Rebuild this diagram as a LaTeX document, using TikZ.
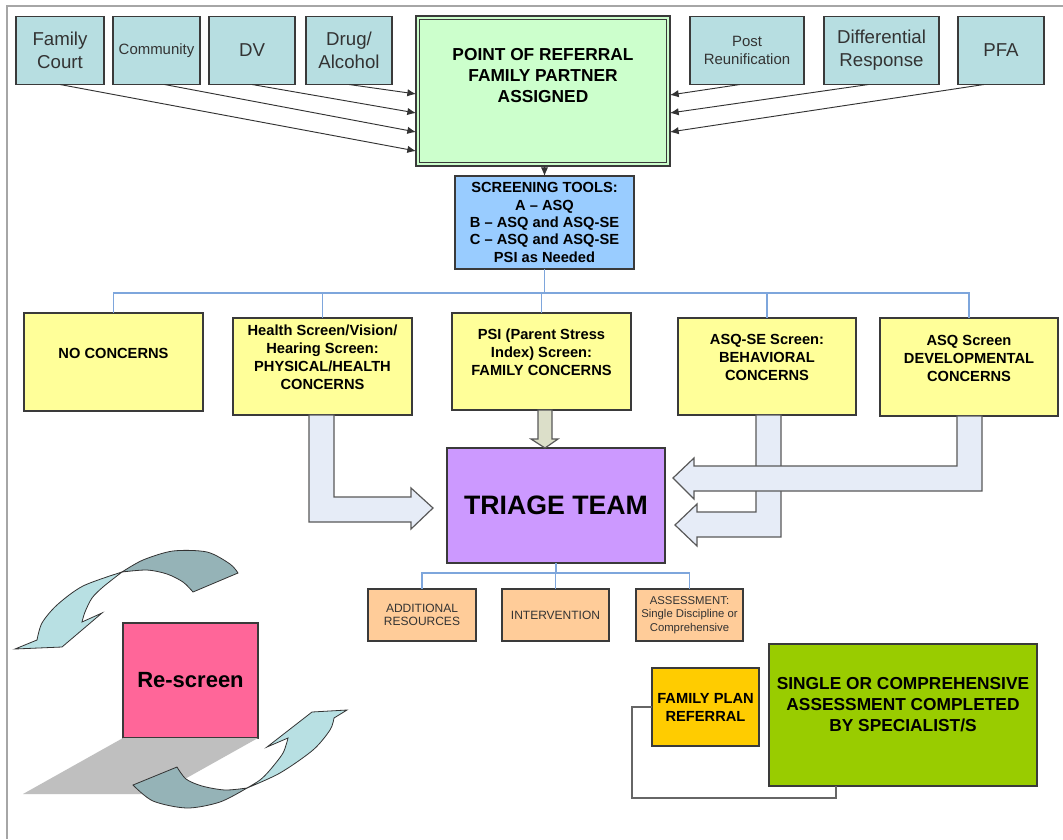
\documentclass[tikz,border=0pt]{standalone}
\usepackage{fontspec}
\setmainfont{Liberation Sans}
\usetikzlibrary{arrows.meta,calc}

\definecolor{srcfill}{HTML}{B7DEE1}
\definecolor{reffill}{HTML}{CCFFCC}
\definecolor{scrfill}{HTML}{99CCFF}
\definecolor{yelfill}{HTML}{FFFF99}
\definecolor{trifill}{HTML}{CC99FF}
\definecolor{orafill}{HTML}{FFCC99}
\definecolor{pinkfill}{HTML}{FF6699}
\definecolor{planfill}{HTML}{FFCC00}
\definecolor{specfill}{HTML}{99CC00}
\definecolor{bigarrow}{HTML}{E6ECF7}
\definecolor{psiarrow}{HTML}{DCDFC9}
\definecolor{orgblue}{HTML}{7EA6DC}
\definecolor{edge}{HTML}{3A3A3A}
\definecolor{swirldark}{HTML}{95B3B7}
\definecolor{swirllight}{HTML}{B8E0E3}

\tikzset{
  boxsize/.style 2 args={minimum width=#1*0.75pt, minimum height=#2*0.75pt},
  box/.style={draw=edge, line width=0.9pt, inner sep=1pt, outer sep=0pt, align=center},
  srcbox/.style={box, fill=srcfill, text=black!80, font=\fontsize{14}{17}\selectfont},
  srcsmall/.style={srcbox, font=\fontsize{11.2}{14}\selectfont},
  ybox/.style={box, fill=yelfill, font=\bfseries\fontsize{11}{13.5}\selectfont},
  obox/.style={box, fill=orafill, text=black!80, font=\fontsize{9}{9.8}\selectfont},
  feed/.style={draw=black!80, line width=0.7pt, -{Latex[length=6.5pt,width=5.5pt]}},
  orgline/.style={draw=orgblue, line width=1.1pt},
  blockarrow/.style={draw=black!65, line width=0.9pt, fill=bigarrow},
  swirl/.style={draw=black!80, line width=0.6pt},
}

\begin{document}
\begin{tikzpicture}[x=0.75pt, y=-0.75pt]
  \useasboundingbox (0,0) rectangle (1063,839);
  \fill[white] (0,0) rectangle (1063,839);
  \draw[black!35, line width=1.5pt] (7,839) -- (7,6) -- (1063,6);

  \node[srcbox, boxsize={88}{68}] (fc) at (60,50.5) {Family\\Court};
  \node[srcsmall, boxsize={87}{68}] (com) at (156.5,50.5) {Community};
  \node[srcbox, boxsize={86}{68}] (dv) at (252,50.5) {DV};
  \node[srcbox, boxsize={86}{68}] (drug) at (349,50.5) {Drug/\\Alcohol};
  \node[box, fill=reffill, boxsize={254}{150}, font=\bfseries\fontsize{13}{15.75}\selectfont] (ref) at (543,91) {POINT OF REFERRAL\\FAMILY PARTNER\\ASSIGNED\\[8pt]~};
  \draw[edge, line width=0.6pt] ([shift={(3.5,3.5)}]ref.north west) rectangle ([shift={(-3.5,-3.5)}]ref.south east);
  \node[srcsmall, boxsize={114}{68}] (post) at (747,50.5) {Post\\Reunification};
  \node[srcbox, boxsize={115}{68}] (diff) at (881.5,50.5) {Differential\\Response};
  \node[srcbox, boxsize={86}{68}] (pfa) at (1001,50.5) {PFA};

  \draw[feed] (fc.south) -- ($(ref.west)+(0,60)$);
  \draw[feed] ($(com.south)+(8,0)$) -- ($(ref.west)+(0,41)$);
  \draw[feed] (dv.south) -- ($(ref.west)+(0,22)$);
  \draw[feed] (drug.south) -- ($(ref.west)+(0,3)$);
  \draw[feed] ($(post.south)+(-7,0)$) -- ($(ref.east)+(0,4)$);
  \draw[feed] ($(diff.south)+(-13,0)$) -- ($(ref.east)+(0,22)$);
  \draw[feed] ($(pfa.south)+(-17,0)$) -- ($(ref.east)+(0,41)$);

  \node[box, fill=scrfill, boxsize={179}{93}, font=\bfseries\fontsize{11}{13}\selectfont] (scr) at (544.5,222.5) {SCREENING TOOLS:\\A – ASQ\\B – ASQ and ASQ-SE\\C – ASQ and ASQ-SE\\PSI as Needed};
  \draw[feed] (ref.south -| scr.north) -- (scr.north);

  \node[ybox, boxsize={179}{98}] (nc) at (113.5,362) {NO CONCERNS\\~};
  \node[ybox, boxsize={179}{97}] (hs) at (322.5,366.5) {Health Screen/Vision/\\Hearing Screen:\\PHYSICAL/HEALTH\\CONCERNS\\~};
  \node[ybox, boxsize={179}{97}] (psi) at (541.5,361.5) {PSI (Parent Stress\\Index) Screen:\\FAMILY CONCERNS\\~};
  \node[ybox, boxsize={178}{97}] (asqse) at (767,366.5) {ASQ-SE Screen:\\BEHAVIORAL\\CONCERNS\\~};
  \node[ybox, boxsize={178}{98}] (asq) at (969,367) {ASQ Screen\\DEVELOPMENTAL\\CONCERNS\\~};

  \coordinate (bus) at (544.5,293);
  \draw[orgline] (scr.south) -- (bus);
  \foreach \n in {nc,hs,psi,asqse,asq}
    \draw[orgline] (bus) -| (\n.north);

  \node[box, fill=trifill, boxsize={218}{115}, font=\bfseries\fontsize{20}{24}\selectfont] (tri) at (556,505.5) {TRIAGE TEAM};

  \filldraw[blockarrow] (309,415) -- (334,415) -- (334,497) -- (411,497) -- (411,488) -- (433,508) -- (411,529) -- (411,522) -- (309,522) -- cycle;
  \filldraw[blockarrow, fill=psiarrow] (538,410) -- (552,410) -- (552,439) -- (558,439) -- (545,448) -- (531,439) -- (538,439) -- cycle;
  \filldraw[blockarrow] (756,415) -- (781,415) -- (781,537) -- (697,537) -- (697,546) -- (675,525) -- (697,504) -- (697,512) -- (756,512) -- cycle;
  \filldraw[blockarrow] (957,416) -- (982,416) -- (982,491) -- (694,491) -- (694,499) -- (673,478) -- (694,458) -- (694,466) -- (957,466) -- cycle;

  \node[obox, boxsize={108}{52}] (add) at (422,615) {ADDITIONAL\\RESOURCES};
  \node[obox, boxsize={107}{52}] (int) at (555.5,615) {INTERVENTION};
  \node[obox, boxsize={107}{52}, font=\fontsize{8.5}{10}\selectfont] (asm) at (689.5,615) {ASSESSMENT:\\Single Discipline or\\Comprehensive};

  \coordinate (tbus) at (556,573);
  \draw[orgline] (tri.south) -- (tbus);
  \foreach \n in {add,int,asm}
    \draw[orgline] (tbus) -| (\n.north);

  \node[box, fill=pinkfill, boxsize={135}{115}, font=\bfseries\fontsize{16.5}{20}\selectfont] (rs) at (190.5,680.5) {Re-screen};
  \fill[black!25] (rs.south west) -- (rs.south east) -- ++(-100,56) -- ++(-135,0) -- cycle;

  \filldraw[swirl, fill=swirldark] plot[smooth] coordinates {(122,572) (143,560) (173,551) (207,552) (230,564) (238,573)} -- plot[smooth] coordinates {(193,592) (183,582) (167,574) (147,570) (122,572)} -- cycle;
  \filldraw[swirl, fill=swirllight] plot[smooth] coordinates {(122,572) (83,586) (57,605) (42,623) (37,640)} -- (15,649) -- (62,647) -- (102,613) -- plot[smooth] coordinates {(82,622) (85,612) (92,598) (103,587) (122,572)} -- cycle;
  \filldraw[swirl, fill=swirldark] plot[smooth] coordinates {(247,788) (220,802) (187,808) (153,801) (133,785)} -- plot[smooth] coordinates {(177,767) (186,779) (202,786) (225,790) (247,788)} -- cycle;
  \filldraw[swirl, fill=swirllight] plot[smooth] coordinates {(247,788) (280,773) (313,750) (330,730) (334,718)} -- (347,710) -- (312,712) -- (267,747) -- plot[smooth] coordinates {(288,738) (283,753) (270,770) (260,780) (247,788)} -- cycle;

  \node[box, fill=planfill, boxsize={107}{78}, font=\bfseries\fontsize{11}{13.5}\selectfont] (fpr) at (705.5,707) {FAMILY PLAN\\REFERRAL};
  \node[box, fill=specfill, boxsize={268}{142}, font=\bfseries\fontsize{13}{15.75}\selectfont] (sca) at (903,715) {SINGLE OR COMPREHENSIVE\\ASSESSMENT COMPLETED\\BY SPECIALIST/S\\~};
  \coordinate (lk) at (836,798);
  \draw[black!60, line width=1.1pt] (fpr.west) -- ++(-20,0) |- (lk) -- (lk |- sca.south);
\end{tikzpicture}
\end{document}
